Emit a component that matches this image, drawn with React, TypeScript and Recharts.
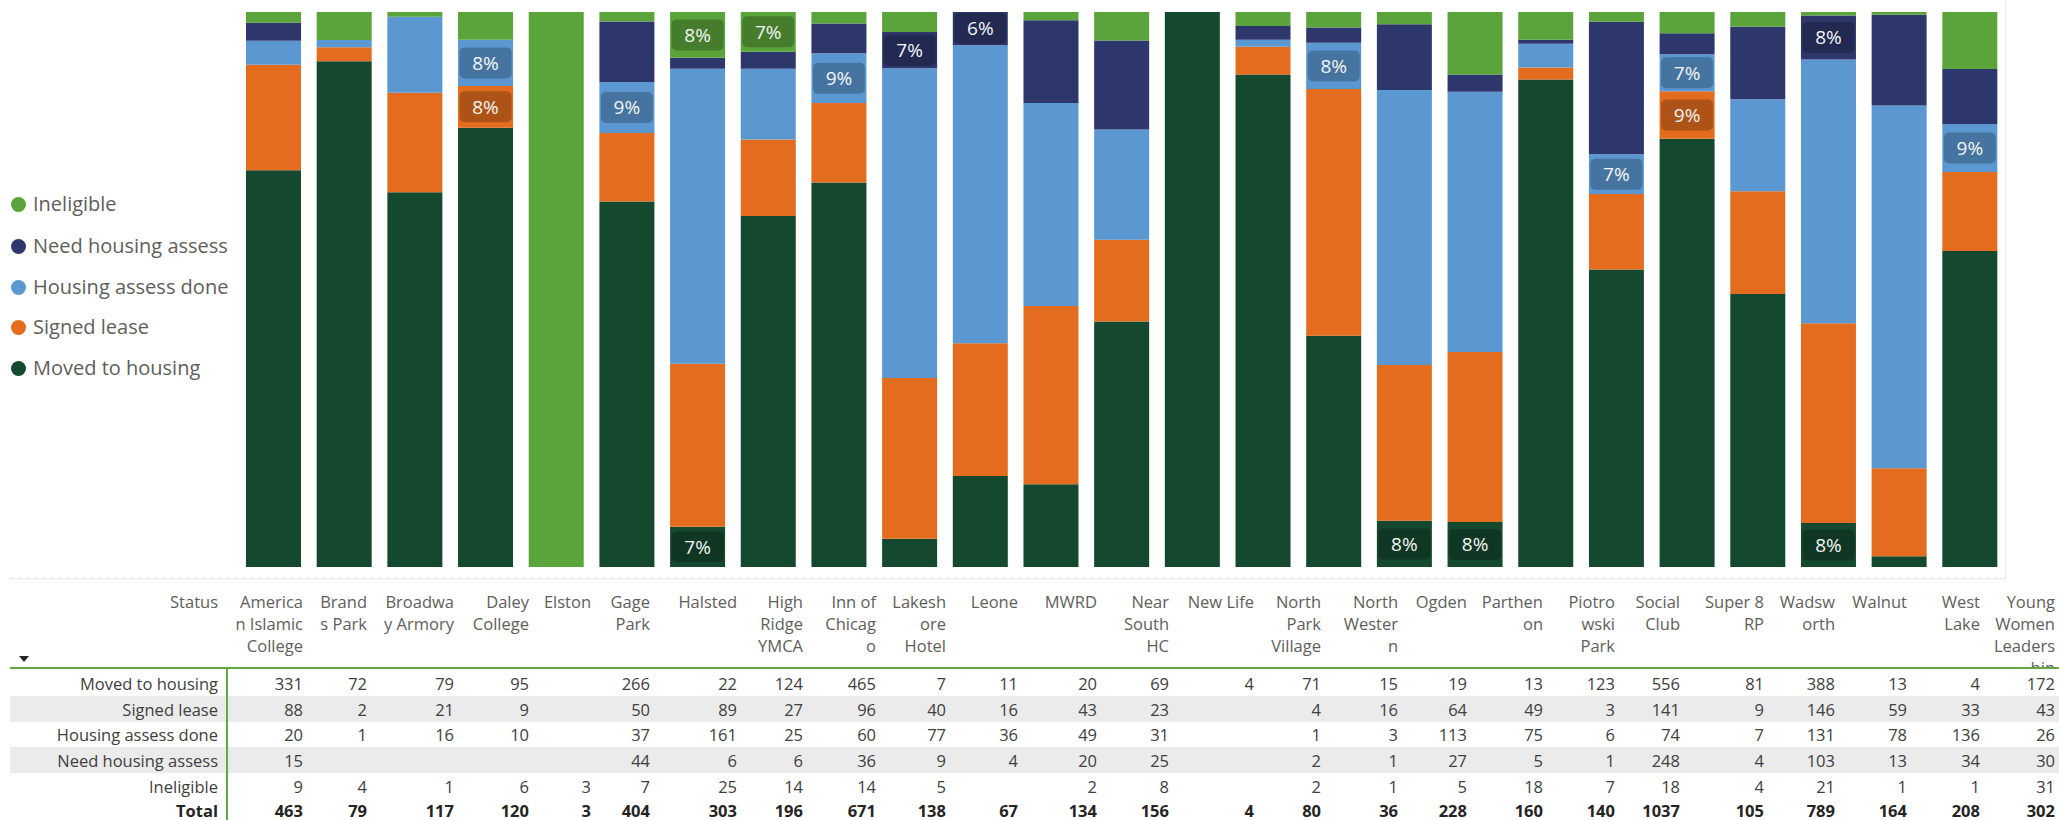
import React from 'react';
import { BarChart, Bar, XAxis, YAxis, LabelList } from 'recharts';

const sites = [
  'American Islamic College', 'Brands Park', 'Broadway Armory', 'Daley College', 'Elston',
  'Gage Park', 'Halsted', 'High Ridge YMCA', 'Inn of Chicago', 'Lakeshore Hotel', 'Leone',
  'MWRD', 'Near South HC', 'New Life', 'North Park Village', 'North Western', 'Ogden',
  'Parthenon', 'Piotrowski Park', 'Social Club', 'Super 8 RP', 'Wadsworth', 'Walnut',
  'West Lake', 'Young Women Leadership',
];

// column headers as they wrap in the table
const siteHeaders = [
  'America\nn Islamic\nCollege', 'Brand\ns Park', 'Broadwa\ny Armory', 'Daley\nCollege', 'Elston',
  'Gage\nPark', 'Halsted', 'High\nRidge\nYMCA', 'Inn of\nChicag\no', 'Lakesh\nore\nHotel', 'Leone',
  'MWRD', 'Near\nSouth\nHC', 'New Life', 'North\nPark\nVillage', 'North\nWester\nn', 'Ogden',
  'Parthen\non', 'Piotro\nwski\nPark', 'Social\nClub', 'Super 8\nRP', 'Wadsw\north', 'Walnut',
  'West\nLake', 'Young\nWomen\nLeaders\nhip',
];

const statuses = ['Moved to housing', 'Signed lease', 'Housing assess done', 'Need housing assess', 'Ineligible'];

const moved = [331, 72, 79, 95, null, 266, 22, 124, 465, 7, 11, 20, 69, 4, 71, 15, 19, 13, 123, 556, 81, 388, 13, 4, 172];
const signed = [88, 2, 21, 9, null, 50, 89, 27, 96, 40, 16, 43, 23, null, 4, 16, 64, 49, 3, 141, 9, 146, 59, 33, 43];
const done = [20, 1, 16, 10, null, 37, 161, 25, 60, 77, 36, 49, 31, null, 1, 3, 113, 75, 6, 74, 7, 131, 78, 136, 26];
const need = [15, null, null, null, null, 44, 6, 6, 36, 9, 4, 20, 25, null, 2, 1, 27, 5, 1, 248, 4, 103, 13, 34, 30];
const ineligible = [9, 4, 1, 6, 3, 7, 25, 14, 14, 5, null, 2, 8, null, 2, 1, 5, 18, 7, 18, 4, 21, 1, 1, 31];
const totals = [463, 79, 117, 120, 3, 404, 303, 196, 671, 138, 67, 134, 156, 4, 80, 36, 228, 160, 140, 1037, 105, 789, 164, 208, 302];

const seriesValues = [moved, signed, done, need, ineligible];
const seriesKeys = ['moved', 'signed', 'done', 'need', 'ineligible'];
const seriesColors = ['#14482f', '#e36c1e', '#5b97d0', '#2d376b', '#5ba33b'];

// right edge of each table column
const colRight = [303, 367, 454, 529, 591, 650, 737, 803, 876, 946, 1018, 1097, 1169, 1254, 1321, 1398, 1467, 1543, 1615, 1680, 1764, 1835, 1907, 1980, 2055];

const FONT = '"Open Sans", "Noto Sans", sans-serif';

const chartData = sites.map((site, i) => {
  const row: any = { site };
  seriesKeys.forEach((k, s) => {
    const v = seriesValues[s][i] ?? 0;
    row[k] = v;
    row[k + 'Pct'] = Math.round((v / totals[i]) * 100);
  });
  return row;
});

// only the mid-sized shares carry a data label
const PctLabel = (props: any) => {
  const { x, y, width, height, value } = props;
  const h = Number(height);
  const pct = Number(value);
  if (!h || h <= 0 || !(pct >= 6 && pct <= 9)) return null;
  const cx = Number(x) + Number(width) / 2;
  const cy = Number(y) + h / 2;
  return (
    <g>
      <rect x={cx - 26} y={cy - 15.5} width={52} height={31} rx={5} fill="rgba(0,0,0,0.23)" />
      <text x={cx} y={cy} dy="0.36em" textAnchor="middle" fill="#f4f4f4" fontSize={19} fontFamily={FONT}>
        {pct}%
      </text>
    </g>
  );
};

const rowCenters = [683, 709, 734, 760, 786, 810];

export default function App() {
  const legendOrder = [4, 3, 2, 1, 0];
  const legendY = [204, 246, 287, 327, 368];

  return (
    <div style={{ position: 'absolute', left: 0, top: 0, width: 2059, height: 820, overflow: 'hidden', background: '#fff', fontFamily: FONT }}>
      <div style={{ position: 'absolute', left: 0, top: 0 }}>
        <BarChart width={2059} height={580} data={chartData} stackOffset="expand" barSize={55}
          margin={{ top: 12, bottom: 13, left: 238, right: 54 }}>
          <XAxis dataKey="site" hide />
          <YAxis hide />
          {seriesKeys.map((k, s) => (
            <Bar key={k} dataKey={k} stackId="a" fill={seriesColors[s]} isAnimationActive={false}>
              <LabelList dataKey={k + 'Pct'} content={<PctLabel />} />
            </Bar>
          ))}
        </BarChart>
      </div>

      {/* legend */}
      {legendOrder.map((s, i) => (
        <div key={s} style={{ position: 'absolute', left: 11, top: legendY[i] - 14, height: 28, display: 'flex', alignItems: 'center' }}>
          <span style={{ width: 15, height: 15, borderRadius: '50%', background: seriesColors[s], display: 'inline-block', marginRight: 7 }} />
          <span style={{ fontSize: 20, color: '#605e5c', lineHeight: '28px' }}>{statuses[s]}</span>
        </div>
      ))}

      {/* chart frame */}
      <div style={{ position: 'absolute', left: 10, top: 578, width: 1995, borderTop: '1px dotted #d8d8d8' }} />
      <div style={{ position: 'absolute', left: 2005, top: 0, height: 579, borderLeft: '1px solid #ececec' }} />

      {/* table */}
      <div style={{ position: 'absolute', left: 10, top: 696, width: 2049, height: 25.5, background: '#ebebeb' }} />
      <div style={{ position: 'absolute', left: 10, top: 747, width: 2049, height: 25.5, background: '#ebebeb' }} />

      <div style={{ position: 'absolute', left: 0, top: 591, width: 2059, height: 76, overflow: 'hidden', fontSize: 16.5, color: '#605e5c', lineHeight: '22px' }}>
        <div style={{ position: 'absolute', right: 2059 - 218, top: 0, whiteSpace: 'pre', textAlign: 'right' }}>Status</div>
        {siteHeaders.map((h, i) => (
          <div key={i} style={{ position: 'absolute', right: 2059 - colRight[i], top: 0, whiteSpace: 'pre', textAlign: 'right' }}>{h}</div>
        ))}
      </div>
      <svg style={{ position: 'absolute', left: 19, top: 656 }} width={10} height={6}>
        <path d="M0 0 L10 0 L5 6 Z" fill="#252423" />
      </svg>

      <div style={{ position: 'absolute', left: 10, top: 667, width: 2049, height: 2, background: '#63a845' }} />
      <div style={{ position: 'absolute', left: 226, top: 668, width: 2, height: 152, background: '#63a845' }} />

      {statuses.map((st, r) => (
        <React.Fragment key={st}>
          <div style={{ position: 'absolute', right: 2059 - 218, top: rowCenters[r] - 12.5, lineHeight: '25px', fontSize: 16.5, color: '#404040', whiteSpace: 'nowrap' }}>{st}</div>
          {seriesValues[r].map((v, i) => (
            <div key={i} style={{ position: 'absolute', right: 2059 - colRight[i], top: rowCenters[r] - 12.5, lineHeight: '25px', fontSize: 16.5, color: '#404040' }}>{v ?? ''}</div>
          ))}
        </React.Fragment>
      ))}
      <div style={{ position: 'absolute', right: 2059 - 218, top: rowCenters[5] - 12.5, lineHeight: '25px', fontSize: 16.5, fontWeight: 700, color: '#252423' }}>Total</div>
      {totals.map((t, i) => (
        <div key={i} style={{ position: 'absolute', right: 2059 - colRight[i], top: rowCenters[5] - 12.5, lineHeight: '25px', fontSize: 16.5, fontWeight: 700, color: '#252423' }}>{t}</div>
      ))}
    </div>
  );
}
